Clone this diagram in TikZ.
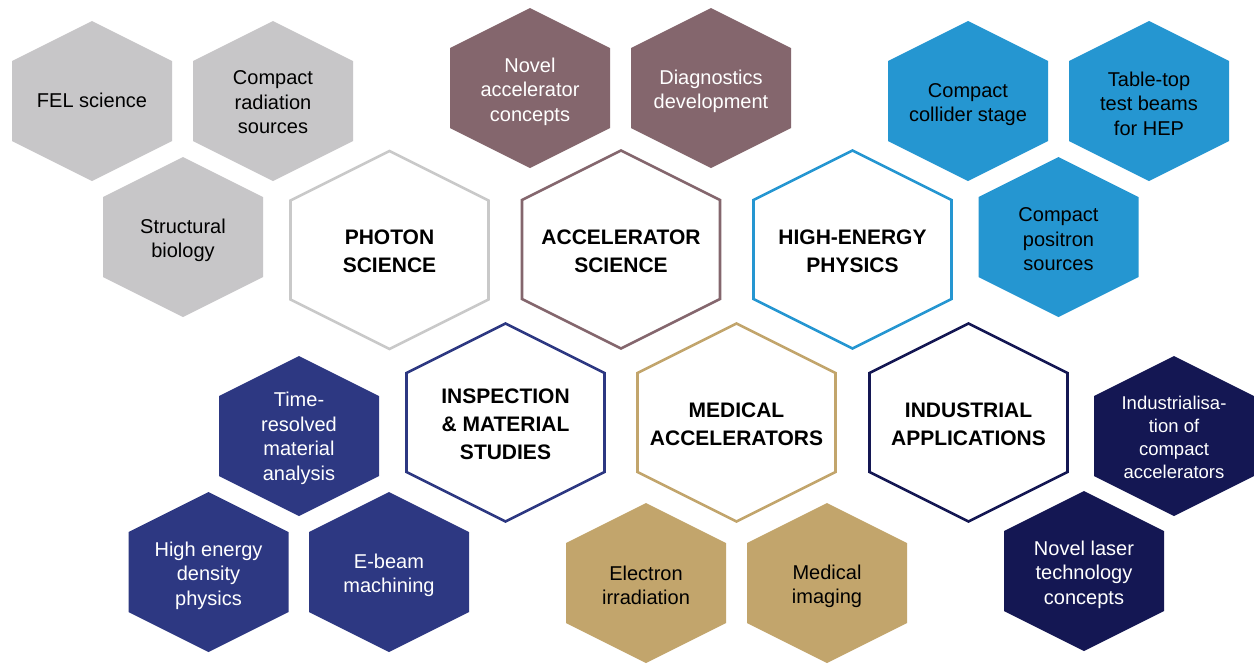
\documentclass[tikz,border=0pt]{standalone}
\usepackage{fontspec}
\setmainfont{Liberation Sans}
\definecolor{greyfill}{HTML}{C7C6C8}
\definecolor{greyline}{HTML}{C9C9C9}
\definecolor{mauve}{HTML}{84666D}
\definecolor{hepblue}{HTML}{2596D1}
\definecolor{navy}{HTML}{2D3882}
\definecolor{gold}{HTML}{C2A56C}
\definecolor{darknavy}{HTML}{141753}
\newcommand\hexbox[7]{%
  \begin{scope}[shift={(#2,#3)}]
    \path[#5] (0,-#4) -- (#4,-#4/2) -- (#4,#4/2) -- (0,#4) -- (-#4,#4/2) -- (-#4,-#4/2) -- cycle;
    \node[#6] (#1) at (0,0) {#7};
  \end{scope}}
\tikzset{
  bigline/.style={draw=#1, line width=2.6pt, fill=white, line join=miter},
  smallfill/.style={fill=#1, draw=none},
  bigtext/.style={align=center, inner sep=0pt, yshift=-1.5pt, font=\bfseries\fontsize{21}{28}\selectfont, text=black},
  smalltext/.style={align=center, inner sep=0pt, yshift=-1.5pt, font=\fontsize{20}{24.5}\selectfont, text=#1},
  smalltext/.default=black
}
\begin{document}
\begin{tikzpicture}[x=1pt,y=-1pt]
\useasboundingbox[fill=white] (0,0) rectangle (1254,665);
% big hexagons
\hexbox{photon}{389.5}{250}{99}{bigline=greyline}{bigtext, yshift=0pt}{PHOTON\\SCIENCE}
\hexbox{accel}{621}{249.5}{99}{bigline=mauve}{bigtext}{ACCELERATOR\\SCIENCE}
\hexbox{hep}{852.5}{249.5}{99}{bigline=hepblue}{bigtext}{HIGH-ENERGY\\PHYSICS}
\hexbox{insp}{505.5}{422.5}{99}{bigline=navy}{bigtext}{INSPECTION\\\&~MATERIAL\\STUDIES}
\hexbox{med}{736.5}{422.5}{99}{bigline=gold}{bigtext}{MEDICAL\\ACCELERATORS}
\hexbox{ind}{968.5}{422.5}{99}{bigline=darknavy}{bigtext}{INDUSTRIAL\\APPLICATIONS}
% photon science satellites
\hexbox{fel}{92}{101}{80}{smallfill=greyfill}{smalltext, yshift=2.5pt}{FEL science}
\hexbox{crs}{273}{101}{80}{smallfill=greyfill}{smalltext}{Compact\\radiation\\sources}
\hexbox{sb}{183}{237}{80}{smallfill=greyfill}{smalltext, yshift=-2pt}{Structural\\biology}
% accelerator science satellites
\hexbox{nac}{530}{88}{80}{smallfill=mauve}{smalltext=white, yshift=-2pt}{Novel\\accelerator\\concepts}
\hexbox{dd}{711}{88}{80}{smallfill=mauve}{smalltext=white, yshift=-2pt}{Diagnostics\\development}
% HEP satellites
\hexbox{ccs}{968}{101}{80}{smallfill=hepblue}{smalltext, yshift=-2pt}{Compact\\collider stage}
\hexbox{tt}{1149}{101}{80}{smallfill=hepblue}{smalltext, yshift=-1pt}{Table-top\\test beams\\for HEP}
\hexbox{cps}{1058.5}{237}{80}{smallfill=hepblue}{smalltext, yshift=-1pt}{Compact\\positron\\sources}
% inspection satellites
\hexbox{tr}{299}{436}{80}{smallfill=navy}{smalltext=white, yshift=-1pt}{Time-\\resolved\\material\\analysis}
\hexbox{hed}{208.5}{572}{80}{smallfill=navy}{smalltext=white, yshift=-2pt}{High energy\\density\\physics}
\hexbox{eb}{389}{572}{80}{smallfill=navy}{smalltext=white, yshift=-2pt}{E-beam\\machining}
% medical satellites
\hexbox{ei}{646}{583}{80}{smallfill=gold}{smalltext, yshift=-1pt}{Electron\\irradiation}
\hexbox{mi}{827}{583}{80}{smallfill=gold}{smalltext, yshift=-2pt}{Medical\\imaging}
% industrial satellites
\hexbox{indc}{1174}{436}{80}{smallfill=darknavy}{smalltext=white, yshift=0pt, font=\fontsize{18.5}{23}\selectfont}{Industrialisa-\\tion of\\compact\\accelerators}
\hexbox{nl}{1084}{571}{80}{smallfill=darknavy}{smalltext=white, yshift=-2pt}{Novel laser\\technology\\concepts}
\end{tikzpicture}
\end{document}
